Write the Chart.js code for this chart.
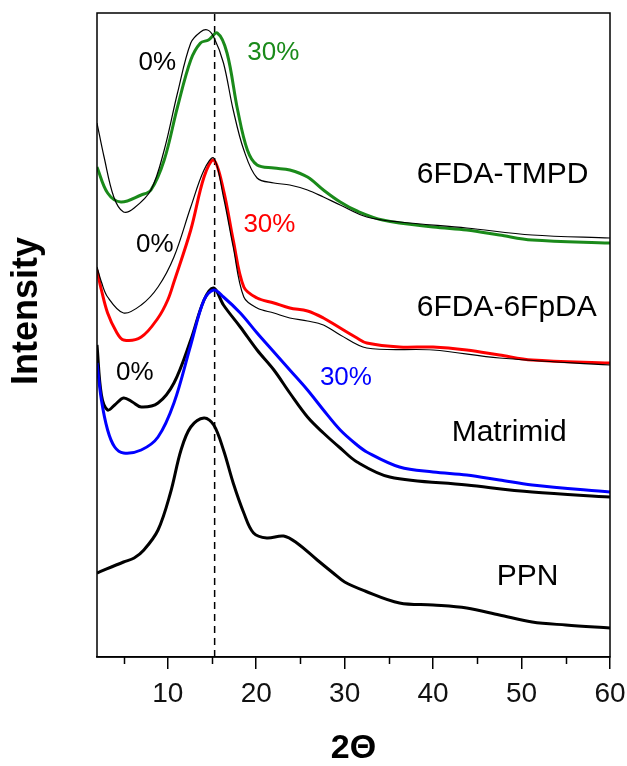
<!DOCTYPE html>
<html>
<head>
<meta charset="utf-8">
<script src="https://cdn.jsdelivr.net/npm/chart.js@4.4.1/dist/chart.umd.min.js"></script>
<style>
  html, body { margin: 0; padding: 0; background: #fff; }
  #wrap { width: 627px; height: 766px; }
</style>
</head>
<body>
<div id="wrap"><canvas id="xrd"></canvas></div>
<script>
// ---- DATA (2-theta in degrees, intensity in arbitrary offset units) ----
const tmpd0X = [2, 2.8, 3.9, 5, 6.2, 8.1, 9.6, 11.1, 12.6, 13.7, 14.5, 15.2, 16.3, 17.4, 18.6, 20.1, 22, 23.8, 25.8, 27.6, 29.5, 32.5, 36.2, 43.8, 51.2, 60];
const tmpd0Y = [534, 500, 460, 445, 449, 467, 507, 564, 614, 625, 627, 620, 594, 547, 507, 479, 474, 472, 467, 460, 452, 440, 435, 429, 422, 419];

const tmpd30X = [2, 3.2, 4.7, 7, 8.1, 9.6, 11.1, 12.6, 13.7, 14.6, 15.6, 16.7, 17.9, 19, 20.1, 22, 23.8, 25.8, 27.6, 29.5, 31.4, 34.3, 40, 43.8, 47.5, 51.2, 60];
const tmpd30Y = [490, 464, 455, 462, 467, 497, 550, 597, 614, 617, 624, 604, 547, 507, 492, 489, 487, 480, 467, 455, 446, 437, 430, 427, 422, 417, 414];

const fpda0X = [2, 2.5, 3.2, 5, 7, 8.9, 10.7, 12.6, 14.1, 15.2, 16.3, 17.4, 18.6, 20.1, 22, 23.8, 25.8, 27.6, 29.5, 32.5, 40, 47.5, 60];
const fpda0Y = [390, 375, 360, 344, 352, 370, 400, 450, 487, 499, 460, 410, 360, 349, 344, 339, 336, 332, 322, 309, 307, 299, 292];

const fpda30X = [2, 2.5, 3.2, 4.2, 5, 7, 8.9, 10, 10.7, 12.6, 14.1, 15.2, 16.3, 17.4, 18.6, 20.1, 22, 23.8, 25.8, 27.6, 29.5, 31.4, 32.5, 36.2, 40, 43.8, 47.5, 51.2, 60];
const fpda30Y = [387, 367, 344, 325, 317, 320, 339, 357, 375, 427, 480, 497, 467, 417, 370, 359, 354, 349, 346, 339, 329, 319, 314, 310, 310, 307, 302, 297, 294];

const matri0X = [2, 2.5, 3.2, 4, 5, 6, 7, 8.9, 10.7, 12.6, 14.1, 15.2, 16.3, 18.2, 20.1, 22, 23.8, 25.8, 27.6, 29.5, 31.4, 35.1, 43.8, 51.2, 60];
const matri0Y = [312, 262, 247, 252, 259, 255, 250, 254, 274, 317, 357, 369, 352, 330, 307, 287, 264, 240, 224, 209, 195, 180, 172, 165, 160];

const matri30X = [2, 2.5, 3.2, 4, 5, 7, 8.9, 10.7, 12.6, 14.1, 15.2, 16.3, 18.2, 20.1, 22, 23.8, 25.8, 27.6, 29.5, 31.4, 32.5, 36.2, 40, 43.8, 47.5, 51.2, 60];
const matri30Y = [294, 257, 227, 210, 204, 207, 220, 254, 312, 357, 367, 360, 344, 324, 305, 287, 267, 247, 227, 212, 205, 190, 185, 182, 177, 172, 165];

const ppnX = [2, 5, 6.2, 7.3, 8.9, 10.3, 11.5, 12.6, 14.1, 15.2, 16.3, 17.4, 18.6, 19.7, 21.2, 23.1, 24.6, 26.9, 28.7, 30, 32.3, 36.2, 40, 43.8, 47.5, 51.2, 55, 60];
const ppnY = [84, 95, 99, 107, 127, 164, 207, 230, 239, 232, 207, 174, 144, 124, 119, 121, 114, 97, 84, 75, 66, 54, 52, 49, 42, 35, 32, 29];

const peakX = 15.3;               // dashed reference line
const xTicks = [10, 20, 30, 40, 50, 60];
const xMinorTicks = [5, 15, 25, 35, 45, 55];

// text labels: [text, 2theta, intensity, colour, size]
const curveLabels = [
    ['6FDA-TMPD', 38.15, 482, '#000', 30],
    ['6FDA-6FpDA', 38.15, 349, '#000', 30],
    ['Matrimid', 42.1, 224, '#000', 30],
    ['PPN', 47.2, 80, '#000', 30],
    ['0%', 6.7, 594, '#000', 26],
    ['30%', 19.0, 604, '#1a8a1a', 26],
    ['0%', 6.4, 412, '#000', 26],
    ['30%', 18.55, 432, '#ff0000', 26],
    ['0%', 4.15, 284, '#000', 26],
    ['30%', 27.2, 279, '#0000ff', 26]
];

const FONT = "'Liberation Sans', Arial, sans-serif";

function toPoints(xs, ys) {
    return xs.map((x, i) => ({ x: x, y: ys[i] }));
}

function curve(label, xs, ys, color, width) {
    return {
        label: label,
        data: toPoints(xs, ys),
        borderColor: color,
        borderWidth: width,
        pointRadius: 0,
        tension: 0.35,
        fill: false
    };
}

// ---- frame, minor ticks and text labels ----
const decorPlugin = {
    id: 'decor',
    afterDraw(chart) {
        const ctx = chart.ctx;
        const a = chart.chartArea;
        const xs = chart.scales.x;
        const ys = chart.scales.y;
        ctx.save();
        ctx.strokeStyle = '#000';
        ctx.lineWidth = 1.5;
        ctx.strokeRect(a.left, a.top, a.right - a.left, a.bottom - a.top);

        ctx.beginPath();
        xMinorTicks.forEach(v => {
            const px = Math.round(xs.getPixelForValue(v)) + 0.5;
            ctx.moveTo(px, a.bottom);
            ctx.lineTo(px, a.bottom + 7);
        });
        ctx.stroke();

        ctx.textAlign = 'left';
        ctx.textBaseline = 'middle';
        curveLabels.forEach(([t, x, y, c, s]) => {
            ctx.fillStyle = c;
            ctx.font = s + 'px ' + FONT;
            ctx.fillText(t, xs.getPixelForValue(x), ys.getPixelForValue(y));
        });

        // y axis title
        ctx.fillStyle = '#000';
        ctx.font = 'bold 36px ' + FONT;
        ctx.textAlign = 'center';
        ctx.translate(27, 311);
        ctx.rotate(-Math.PI / 2);
        ctx.fillText('Intensity', 0, 0);
        ctx.restore();
    }
};

new Chart(document.getElementById('xrd'), {
    type: 'line',
    data: {
        datasets: [
            curve('6FDA-TMPD 0%', tmpd0X, tmpd0Y, '#000000', 1.2),
            curve('6FDA-TMPD 30%', tmpd30X, tmpd30Y, '#1a8a1a', 3),
            curve('6FDA-6FpDA 0%', fpda0X, fpda0Y, '#000000', 1.2),
            curve('6FDA-6FpDA 30%', fpda30X, fpda30Y, '#ff0000', 3),
            curve('Matrimid 30%', matri30X, matri30Y, '#0000ff', 3),
            curve('Matrimid 0%', matri0X, matri0Y, '#000000', 3),
            curve('PPN', ppnX, ppnY, '#000000', 3),
            {
                label: 'peak',
                data: [{ x: peakX, y: 0 }, { x: peakX, y: 644 }],
                borderColor: '#000',
                borderWidth: 1.5,
                borderDash: [7, 5],
                pointRadius: 0
            }
        ]
    },
    options: {
        responsive: true,
        maintainAspectRatio: false,
        animation: false,
        layout: { padding: { left: 97, right: 17, top: 13, bottom: 0 } },
        plugins: {
            legend: { display: false },
            tooltip: { enabled: false }
        },
        scales: {
            x: {
                type: 'linear',
                min: 2,
                max: 60,
                afterBuildTicks: s => { s.ticks = xTicks.map(v => ({ value: v })); },
                afterFit: s => {
                    s.height = 109;
                    s.paddingLeft = 0;
                    s.paddingRight = 0;
                },
                grid: {
                    display: true,
                    drawOnChartArea: false,
                    drawTicks: true,
                    tickLength: 12,
                    color: '#000',
                    lineWidth: 1.5
                },
                border: { display: true, color: '#000', width: 1.5 },
                ticks: {
                    color: '#111',
                    font: { family: FONT, size: 28 },
                    padding: 8,
                    maxRotation: 0
                },
                title: {
                    display: true,
                    text: '2Θ',
                    color: '#000',
                    font: { family: FONT, size: 34, weight: 'bold', lineHeight: 1 },
                    padding: { top: 0, bottom: 0 }
                }
            },
            y: {
                type: 'linear',
                min: 0,
                max: 644,
                display: false
            }
        }
    },
    plugins: [decorPlugin]
});
</script>
</body>
</html>
